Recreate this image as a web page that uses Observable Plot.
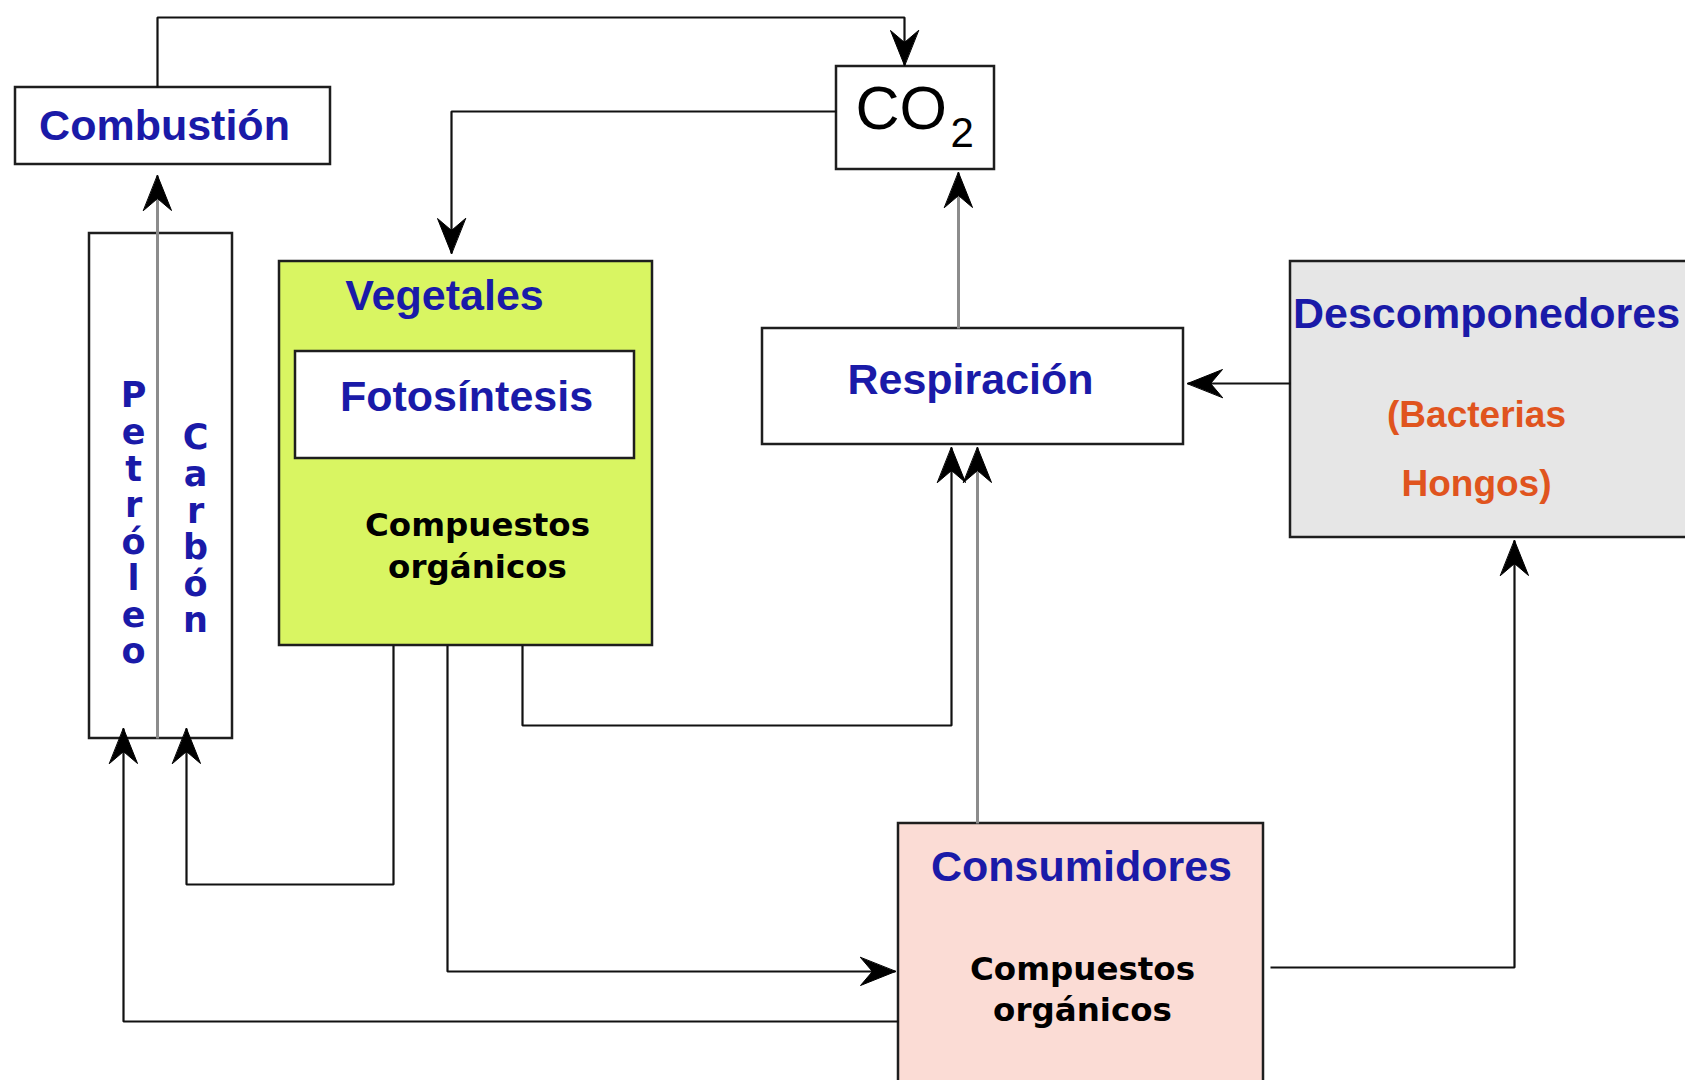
<!DOCTYPE html>
<html><head><meta charset="utf-8">
<script src="https://cdn.jsdelivr.net/npm/d3@7"></script>
<script src="https://cdn.jsdelivr.net/npm/@observablehq/plot@0.6"></script>
<style>html,body{margin:0;padding:0;background:#fff;overflow:hidden}</style>
</head><body><div id="chart"></div>
<script>
// ---- Nodes (diagram coordinates) ----
const boxNames = ["Combustión","CO2","Fósiles","Vegetales","Fotosíntesis","Respiración","Descomponedores","Consumidores"];
const boxX1 = [15, 836, 89, 279, 295, 762, 1290, 898];
const boxX2 = [330, 994, 232, 652, 634, 1183, 1700, 1263];
const boxY1 = [87, 66, 233, 261, 351, 328, 261, 823];
const boxY2 = [164, 169, 738, 645, 458, 444, 537, 1100];

// ---- Labels ----
const headingText = ["Combustión","Vegetales","Fotosíntesis","Respiración","Descomponedores","Consumidores"];
const headingX = [164, 444, 466, 970, 1486, 1081];
const headingY = [126, 296, 397, 380, 314, 867];

const compText = ["Compuestos","orgánicos","Compuestos","orgánicos"];
const compX = [477, 477, 1082, 1082];
const compY = [525, 567, 969, 1010];

const decompText = ["(Bacterias","Hongos)"];
const decompX = [1476, 1476];
const decompY = [415, 484];

const fossilText = ["P\ne\nt\nr\nó\nl\ne\no", "C\na\nr\nb\nó\nn"];
const fossilX = [133, 195];
const fossilY = [381, 423];

const co2Main = ["CO"], co2MainX = [855], co2MainY = [109];
const co2Sub = ["2"], co2SubX = [950], co2SubY = [133];

// ---- Connectors (polylines, last point = arrow tip) ----
const connectorIds = ["comb-co2","co2-veg","fos-comb","veg-carb","veg-cons","veg-resp","resp-co2","cons-resp","desc-resp","cons-desc","cons-petr"];
const connectorKind = ["black","black","gray","black","black","black","gray","gray","black","black","black"];
const connectorPts = [
  [[157,87],[157,17],[904,17],[904,65]],
  [[836,111],[451,111],[451,253]],
  [[157,738],[157,175]],
  [[393,645],[393,884],[186,884],[186,728]],
  [[447,645],[447,971],[895,971]],
  [[522,645],[522,725],[951,725],[951,447]],
  [[958,328],[958,172]],
  [[977,823],[977,447]],
  [[1290,383],[1187,383]],
  [[1270,967],[1514,967],[1514,540]],
  [[898,1021],[123,1021],[123,728]]
];

// ---- Styles ----
const fillOf = {"Vegetales":"#d9f562","Descomponedores":"#e6e6e6","Consumidores":"#fbdcd5"};
const BLUE = "#1a1aa8", ORANGE = "#e0541e";
const ARIAL = "'Liberation Sans', Arial, sans-serif";
const DEJAVU = "'DejaVu Sans', Verdana, sans-serif";

const boxes = boxNames.map((n, i) => ({name: n, x1: boxX1[i], x2: boxX2[i], y1: boxY1[i], y2: boxY2[i]}));
const rows = (t, xs, ys) => t.map((s, i) => ({text: s, x: xs[i], y: ys[i]}));

const lineRows = [];
connectorIds.forEach((id, i) => connectorPts[i].forEach(([x, y]) => lineRows.push({id, kind: connectorKind[i], x, y})));
const heads = connectorPts.map(p => {
  const [x0, y0] = p[p.length - 2], [x1, y1] = p[p.length - 1];
  return {x: x1, y: y1, rotate: Math.atan2(x1 - x0, -(y1 - y0)) * 180 / Math.PI};
});

const notched = {
  draw(context, l, r) {
    context.moveTo(0, -l);
    context.lineTo(r, 0);
    context.lineTo(0, -l * 0.34);
    context.lineTo(-r, 0);
    context.closePath();
  }
};

const chart = Plot.plot({
  width: 1685, height: 1080,
  marginTop: 0, marginRight: 0, marginBottom: 0, marginLeft: 0,
  x: {domain: [0, 1685], range: [0, 1685], axis: null},
  y: {domain: [0, 1080], range: [0, 1080], axis: null},
  style: {background: "#fff", overflow: "hidden"},
  marks: [
    Plot.rect(boxes, {x1: "x1", x2: "x2", y1: "y1", y2: "y2",
      fill: d => fillOf[d.name] || "#ffffff", stroke: "#1e1e1e", strokeWidth: 2.5, clip: true}),
    Plot.line(lineRows.filter(d => d.kind === "black"), {x: "x", y: "y", z: "id",
      stroke: "#111", strokeWidth: 2.2, strokeLinejoin: "miter", strokeLinecap: "butt"}),
    Plot.line(lineRows.filter(d => d.kind === "gray"), {x: "x", y: "y", z: "id",
      stroke: "#8c8c8c", strokeWidth: 3, strokeLinejoin: "miter", strokeLinecap: "butt"}),
    Plot.vector(heads, {x: "x", y: "y", rotate: "rotate", length: 35, r: 14, anchor: "end",
      shape: notched, fill: "#000", stroke: "#000", strokeWidth: 1}),
    Plot.text(rows(headingText, headingX, headingY), {x: "x", y: "y", text: "text",
      fill: BLUE, fontSize: 43, fontWeight: "bold", fontFamily: ARIAL}),
    Plot.text(rows(compText, compX, compY), {x: "x", y: "y", text: "text",
      fill: "#000", fontSize: 32.5, fontWeight: "bold", fontFamily: DEJAVU}),
    Plot.text(rows(decompText, decompX, decompY), {x: "x", y: "y", text: "text",
      fill: ORANGE, fontSize: 37, fontWeight: "bold", fontFamily: ARIAL}),
    Plot.text(rows(fossilText, fossilX, fossilY), {x: "x", y: "y", text: "text",
      fill: BLUE, fontSize: 35, fontWeight: "bold", fontFamily: DEJAVU, lineAnchor: "top", lineHeight: 1.045}),
    Plot.text(rows(co2Main, co2MainX, co2MainY), {x: "x", y: "y", text: "text",
      fill: "#000", fontSize: 61, fontFamily: ARIAL, textAnchor: "start"}),
    Plot.text(rows(co2Sub, co2SubX, co2SubY), {x: "x", y: "y", text: "text",
      fill: "#000", fontSize: 42, fontFamily: ARIAL, textAnchor: "start"})
  ]
});
document.getElementById("chart").appendChild(chart);
</script>
</body></html>
